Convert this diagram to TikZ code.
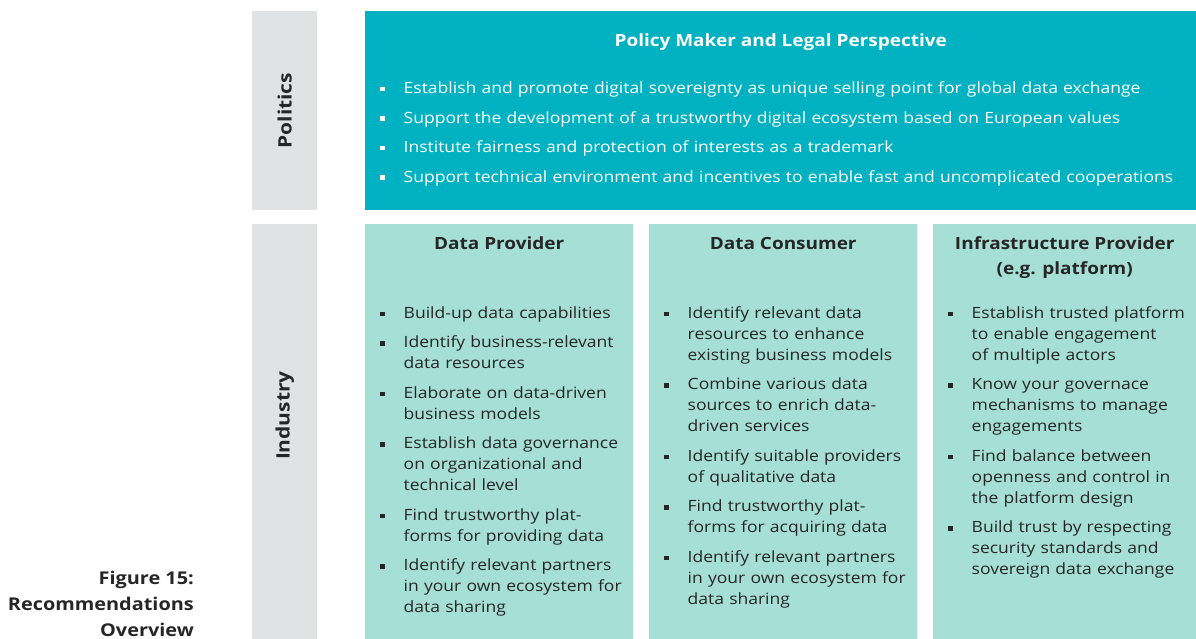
\documentclass[tikz,border=0pt]{standalone}
\usepackage{fontspec}
\setmainfont{Open Sans}[FakeStretch=1.13]
\usepackage{enumitem}
\usetikzlibrary{positioning}

\definecolor{polteal}{HTML}{00B2C1}
\definecolor{indmint}{HTML}{A6DFD6}
\definecolor{sidegray}{HTML}{E1E2E4}
\definecolor{txtdark}{HTML}{262626}

\newcommand{\sqbullet}{\rule[0.25ex]{4.5pt}{4.5pt}}
\newenvironment{reclist}{\begin{itemize}[label=\sqbullet,align=left,labelindent=0pt,labelwidth=4.5pt,labelsep=19pt,leftmargin=23.5pt,itemsep=8.5pt,parsep=0pt,topsep=0pt,partopsep=0pt]}{\end{itemize}}

\tikzset{
  sidebar/.style={fill=sidegray, draw=none, minimum width=65pt, anchor=north west, inner sep=0pt},
  sidelabel/.style={rotate=90, font=\fontsize{18.5}{22}\selectfont\bfseries, text=txtdark},
  rolebox/.style={fill=indmint, draw=none, minimum width=268pt, minimum height=415pt, anchor=north west, inner sep=0pt},
  roletitle/.style={font=\fontsize{16.8}{25}\selectfont\bfseries, text=txtdark, align=center, anchor=north, text height=13pt, text depth=4pt},
  itemlist/.style={font=\fontsize{15.5}{21}\selectfont, text=txtdark, text width=#1, anchor=north west, inner sep=0pt},
}

\begin{document}
\begin{tikzpicture}[x=1pt,y=-1pt]
  \useasboundingbox (0,0) rectangle (1196,639);

  % side labels
  \node[sidebar, minimum height=199pt] (sidepol) at (252,11) {};
  \node[sidebar, minimum height=415pt] (sideind) at (252,224) {};
  \node[sidelabel] (politics) at (sidepol.center) {Politics};
  \node[sidelabel] (industry) at ([yshift=16pt]sideind.center) {Industry};

  % politics
  \node[fill=polteal, draw=none, minimum width=831pt, minimum height=199pt, anchor=north west, inner sep=0pt] (polbox) at (365,11) {};
  \node[font=\fontsize{16.8}{20}\selectfont\bfseries, text=white, anchor=north] (poltitle) at ([yshift=-19pt]polbox.north) {Policy Maker and Legal Perspective};
  \node[itemlist=810pt, text=white, anchor=north west] (pollist) at ([xshift=15pt,yshift=-18.5pt]polbox.west |- poltitle.south) {%
    \begin{reclist}
      \item Establish and promote digital sovereignty as unique selling point for global data exchange
      \item Support the development of a trustworthy digital ecosystem based on European values
      \item Institute fairness and protection of interests as a trademark
      \item Support technical environment and incentives to enable fast and uncomplicated cooperations
    \end{reclist}};

  % industry
  \node[rolebox] (provider) at (365,224) {};
  \node[rolebox] (consumer) at (649,224) {};
  \node[rolebox, minimum width=263pt] (infra) at (933,224) {};

  \node[roletitle] (providertitle) at ([yshift=-9pt]provider.north) {Data Provider};
  \node[roletitle] (consumertitle) at ([yshift=-9pt]consumer.north) {Data Consumer};
  \node[roletitle, text height={}, text depth={}] (infratitle) at ([yshift=-9pt]infra.north) {Infrastructure Provider\\(e.g. platform)};

  \node[itemlist=250pt] (providerlist) at ([xshift=15pt,yshift=-73pt]provider.north west) {%
    \begin{reclist}
      \item Build-up data capabilities
      \item Identify business-relevant\newline data resources
      \item Elaborate on data-driven\newline business models
      \item Establish data governance\newline on organizational and\newline technical level
      \item Find trustworthy plat-\newline forms for providing data
      \item Identify relevant partners\newline in your own ecosystem for\newline data sharing
    \end{reclist}};

  \node[itemlist=250pt] (consumerlist) at ([xshift=15pt,yshift=-73pt]consumer.north west) {%
    \begin{reclist}
      \item Identify relevant data\newline resources to enhance\newline existing business models
      \item Combine various data\newline sources to enrich data-\newline driven services
      \item Identify suitable providers\newline of qualitative data
      \item Find trustworthy plat-\newline forms for acquiring data
      \item Identify relevant partners\newline in your own ecosystem for\newline data sharing
    \end{reclist}};

  \node[itemlist=245pt] (infralist) at ([xshift=15pt,yshift=-73pt]infra.north west) {%
    \begin{reclist}
      \item Establish trusted platform\newline to enable engagement\newline of multiple actors
      \item Know your governace\newline mechanisms to manage\newline engagements
      \item Find balance between\newline openness and control in\newline the platform design
      \item Build trust by respecting\newline security standards and\newline sovereign data exchange
    \end{reclist}};

  % caption
  \node[font=\fontsize{17.6}{26}\selectfont\bfseries, text=txtdark, align=right, anchor=south east, inner sep=2pt] (caption) at (196,639) {Figure 15:\\Recommendations\\Overview};
\end{tikzpicture}
\end{document}
